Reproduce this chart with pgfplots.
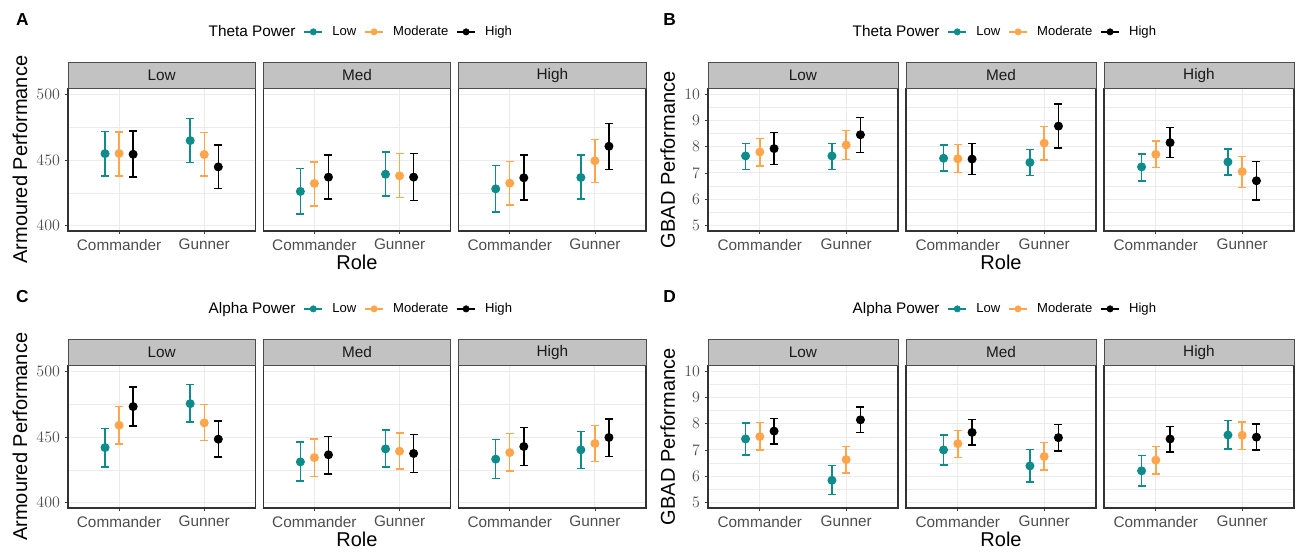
\documentclass[border=0pt]{standalone}
\usepackage{fontspec}
\setmainfont{Liberation Sans}
\usepackage{pgfplots}
\pgfplotsset{compat=1.18}
\usepackage{pgfplotstable}

\definecolor{lowc}{HTML}{0E8B8B}
\definecolor{modc}{HTML}{FFA64D}
\definecolor{stripc}{HTML}{C2C2C2}
\definecolor{gridc}{HTML}{EBEBEB}
\definecolor{tickc}{HTML}{4D4D4D}

% pos: 1,2 = Low facet; 4,5 = Med; 7,8 = High (Commander, Gunner)
% m = mean, l = lower, h = upper; L/M/H = Low/Moderate/High power
\pgfplotstableread{
pos mL lL hL mM lM hM mH lH hH
1 454.9 437.7 471.9 455.0 437.7 471.4 454.4 437.0 472.0
2 464.8 448.0 481.5 454.2 437.7 470.9 444.8 428.4 461.5
4 426.1 408.9 443.5 432.2 414.9 448.6 437.0 420.3 453.9
5 439.2 422.8 456.0 438.0 421.3 454.9 437.0 419.2 454.9
7 428.1 410.4 445.8 432.4 415.7 449.1 436.5 419.7 453.7
8 436.7 420.3 453.7 449.4 432.9 465.8 460.5 443.0 478.0
}\tabA
\pgfplotstableread{
pos mL lL hL mM lM hM mH lH hH
1 7.65 7.14 8.13 7.80 7.26 8.32 7.93 7.32 8.55
2 7.65 7.14 8.13 8.07 7.51 8.63 8.46 7.79 9.12
4 7.56 7.07 8.07 7.54 7.02 8.08 7.53 6.93 8.13
5 7.40 6.90 7.90 8.14 7.49 8.77 8.79 7.96 9.63
7 7.23 6.70 7.72 7.71 7.20 8.22 8.16 7.60 8.73
8 7.42 6.92 7.92 7.05 6.45 7.63 6.70 5.97 7.43
}\tabB
\pgfplotstableread{
pos mL lL hL mM lM hM mH lH hH
1 442.0 427.3 456.7 459.0 444.6 473.2 473.2 458.5 488.1
2 475.4 461.5 489.9 460.8 447.3 474.7 448.4 434.9 462.3
4 431.1 416.5 446.3 434.4 420.0 448.6 436.5 422.0 450.6
5 441.0 427.3 455.2 439.2 425.6 453.2 437.5 423.0 451.9
7 433.2 418.5 448.1 438.2 424.0 452.7 442.8 428.4 457.2
8 440.3 426.1 454.4 445.1 431.4 458.7 449.7 435.2 463.8
}\tabC
\pgfplotstableread{
pos mL lL hL mM lM hM mH lH hH
1 7.42 6.81 8.03 7.51 6.99 8.05 7.72 7.23 8.20
2 5.84 5.30 6.41 6.63 6.11 7.13 8.15 7.66 8.65
4 7.00 6.42 7.58 7.24 6.71 7.75 7.67 7.18 8.16
5 6.39 5.78 7.01 6.75 6.23 7.28 7.47 6.96 7.97
7 6.20 5.62 6.78 6.61 6.08 7.14 7.42 6.92 7.90
8 7.57 7.04 8.13 7.56 7.01 8.06 7.49 7.00 7.99
}\tabD

\pgfplotsset{
  base/.style={
    scale only axis, height=106.9pt, anchor=south west,
    axis line style={draw=black!80, line width=1.1pt},
    xticklabels={Commander,Gunner},
    xtick pos=bottom, ytick pos=left,
    tick align=outside, major tick length=2.5pt, minor tick length=0pt,
    tick style={draw=black!75, line width=0.6pt},
    xmajorgrids, ymajorgrids, yminorgrids,
    major grid style={gridc, line width=0.8pt},
    minor grid style={gridc, line width=0.45pt},
    tick label style={font=\fontsize{11.5}{12}\selectfont, text=tickc},
    label style={font=\fontsize{15}{16}\selectfont},
    xlabel style={yshift=3pt},
    every axis title/.style={at={(0.5,1)}, anchor=south, fill=stripc,
      draw=black!70, line width=0.5pt, inner sep=0pt, minimum height=19.5pt,
      font=\fontsize{11.5}{12}\selectfont, text=black!90},
    legend columns=-1,
    legend style={draw=none, fill=none, at={(0.5,1.397)}, anchor=center,
      font=\fontsize{9.8}{11}\selectfont,
      /tikz/every even column/.append style={column sep=4pt},
      /tikz/every odd column/.append style={column sep=5pt}},
  },
  fA/.style={base, width=140.5pt, ymin=396, ymax=504.5,
    ytick={400,450,500}, minor ytick={425,475},
    title style={minimum width=140.5pt}},
  fB/.style={base, width=142.5pt, ymin=4.78, ymax=10.23,
    ytick={5,6,...,10}, minor ytick={5.5,6.5,...,9.5},
    title style={minimum width=142.5pt}},
  k0/.style={xmin=0.4, xmax=2.6, xtick={1,2}, restrict x to domain=0:3, title=Low},
  k1/.style={xmin=3.4, xmax=5.6, xtick={4,5}, restrict x to domain=3:6, title=Med,
    yticklabels={}, ytick style={draw=none}},
  k2/.style={xmin=6.4, xmax=8.6, xtick={7,8}, restrict x to domain=6:9, title=High,
    yticklabels={}, ytick style={draw=none}},
  grp/.style={only marks, mark=*, mark size=2.8pt, line width=1.1pt, forget plot,
    error bars/y dir=both, error bars/y explicit,
    error bars/error bar style={line width=1.1pt},
    error bars/error mark options={rotate=90, mark size=3pt, line width=1.1pt}},
  key/.style={legend image code/.code={
    \draw[#1, line width=1.1pt] (0pt,0pt) -- (13.5pt,0pt);
    \fill[#1] (6.75pt,0pt) circle (2.4pt);}},
}

\newcommand{\groups}[1]{%
  \addplot[grp, lowc] table[x expr=\thisrow{pos}-0.165, y=mL,
    y error plus expr=\thisrow{hL}-\thisrow{mL},
    y error minus expr=\thisrow{mL}-\thisrow{lL}] {#1};
  \addplot[grp, modc] table[x=pos, y=mM,
    y error plus expr=\thisrow{hM}-\thisrow{mM},
    y error minus expr=\thisrow{mM}-\thisrow{lM}] {#1};
  \addplot[grp, black] table[x expr=\thisrow{pos}+0.165, y=mH,
    y error plus expr=\thisrow{hH}-\thisrow{mH},
    y error minus expr=\thisrow{mH}-\thisrow{lH}] {#1};
}
\newcommand{\keys}[1]{%
  \addlegendimage{empty legend}
  \addlegendimage{key=lowc}
  \addlegendimage{key=modc}
  \addlegendimage{key=black}
  \legend{{\fontsize{11.5}{12}\selectfont #1}, Low, Moderate, High}
}

\begin{document}
\begin{tikzpicture}
\useasboundingbox (0,0) rectangle (973.5pt,414pt);

% ---- A ----
\node[anchor=west, font=\bfseries\fontsize{13}{14}\selectfont] at (8.5pt,399pt) {A};
\begin{axis}[fA, k0, at={(51pt,240.75pt)}, ylabel={Armoured Performance}]
\groups{\tabA}
\end{axis}
\begin{axis}[fA, k1, at={(197.5pt,240.75pt)}, xlabel={Role}]
\keys{Theta Power}
\groups{\tabA}
\end{axis}
\begin{axis}[fA, k2, at={(344pt,240.75pt)}]
\groups{\tabA}
\end{axis}

% ---- B ----
\node[anchor=west, font=\bfseries\fontsize{13}{14}\selectfont] at (494pt,399pt) {B};
\begin{axis}[fB, k0, at={(531pt,240.75pt)}, ylabel={GBAD Performance}]
\groups{\tabB}
\end{axis}
\begin{axis}[fB, k1, at={(679.5pt,240.75pt)}, xlabel={Role}]
\keys{Theta Power}
\groups{\tabB}
\end{axis}
\begin{axis}[fB, k2, at={(828pt,240.75pt)}]
\groups{\tabB}
\end{axis}

% ---- C ----
\node[anchor=west, font=\bfseries\fontsize{13}{14}\selectfont] at (8.5pt,191.25pt) {C};
\begin{axis}[fA, k0, at={(51pt,33pt)}, ylabel={Armoured Performance}]
\groups{\tabC}
\end{axis}
\begin{axis}[fA, k1, at={(197.5pt,33pt)}, xlabel={Role}]
\keys{Alpha Power}
\groups{\tabC}
\end{axis}
\begin{axis}[fA, k2, at={(344pt,33pt)}]
\groups{\tabC}
\end{axis}

% ---- D ----
\node[anchor=west, font=\bfseries\fontsize{13}{14}\selectfont] at (494pt,191.25pt) {D};
\begin{axis}[fB, k0, at={(531pt,33pt)}, ylabel={GBAD Performance}]
\groups{\tabD}
\end{axis}
\begin{axis}[fB, k1, at={(679.5pt,33pt)}, xlabel={Role}]
\keys{Alpha Power}
\groups{\tabD}
\end{axis}
\begin{axis}[fB, k2, at={(828pt,33pt)}]
\groups{\tabD}
\end{axis}
\end{tikzpicture}
\end{document}
